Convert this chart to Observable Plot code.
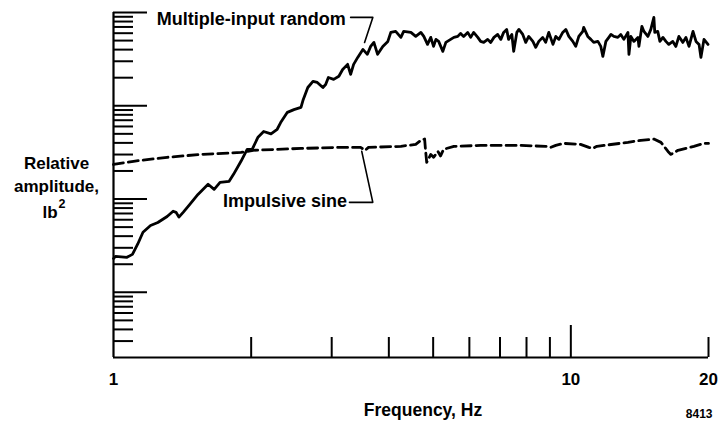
<!DOCTYPE html>
<html><head><meta charset="utf-8">
<script src="https://cdn.jsdelivr.net/npm/d3@7"></script>
<script src="https://cdn.jsdelivr.net/npm/@observablehq/plot@0.6"></script>
<style>body{margin:0;background:#fff}svg{display:block}</style>
</head><body><div id="chart"></div>
<script>
// Multiple-input random (solid)
const randomFreq = [1.0,1.01,1.07,1.10,1.13,1.16,1.205,1.25,1.31,1.35,1.37,1.39,1.42,1.47,1.53,1.61,1.66,1.71,1.79,1.83,1.90,1.96,2.01,2.07,2.13,2.21,2.28,2.32,2.40,2.48,2.57,2.60,2.66,2.73,2.79,2.87,2.91,2.95,3.03,3.11,3.17,3.25,3.30,3.35,3.42,3.51,3.59,3.65,3.71,3.78,3.88,3.98,4.04,4.14,4.25,4.31,4.47,4.58,4.70,4.77,4.86,4.94,5.01,5.07,5.14,5.25,5.33,5.46,5.55,5.66,5.74,5.83,5.95,6.04,6.13,6.26,6.35,6.45,6.58,6.68,6.79,6.92,7.03,7.13,7.24,7.31,7.43,7.50,7.62,7.70,7.85,7.97,8.09,8.26,8.38,8.51,8.68,8.81,8.95,9.14,9.27,9.42,9.60,9.75,9.90,10.10,10.25,10.41,10.62,10.67,10.89,11.06,11.22,11.46,11.63,11.75,11.93,12.11,12.24,12.42,12.67,12.86,13.06,13.33,13.40,13.53,13.74,14.02,14.09,14.30,14.45,14.74,14.96,15.19,15.26,15.49,15.66,15.90,16.14,16.38,16.71,16.97,17.23,17.58,17.85,18.13,18.50,18.78,19.07,19.25,19.55,19.95];
const randomAmp = [2.3,2.43,2.37,2.55,3.3,4.4,5.2,5.6,6.5,7.4,7.2,6.4,7.2,8.8,11.2,14.4,12.7,15.1,15.5,18.4,25.4,34,34,46,53,50,56,66,85,91,96,117,157,183,178,157,169,201,192,207,245,278,217,278,330,402,356,433,478,356,433,490,612,627,541,627,612,554,612,554,455,541,433,515,490,383,478,515,541,554,597,554,612,541,612,541,490,478,515,478,541,582,515,612,659,515,582,383,612,659,582,478,554,490,423,490,541,478,612,455,554,515,612,659,554,490,433,554,627,692,554,515,478,490,433,338,490,541,582,554,541,582,515,612,356,554,490,541,433,710,627,554,659,886,612,627,490,541,490,455,490,433,554,478,541,433,627,490,455,330,515,455];
// Impulsive sine (dashed)
const sineFreq = [1.0,1.106,1.31,1.55,1.90,2.02,2.57,3.14,3.47,3.55,3.61,4.25,4.58,4.70,4.79,4.81,4.84,4.94,5.01,5.12,5.19,5.27,5.55,6.35,7.77,8.81,9.04,9.27,9.65,10.5,10.95,11.17,11.4,11.81,13.33,14.23,15.19,15.74,16.31,16.55,17.15,18.58,19.55,20];
const sineAmp = [23.5,25.4,28.0,30.1,31.6,33.3,34.9,35.8,35.8,33.3,35.8,36.7,38.6,42.6,44,34,24.7,30.1,28,32.4,29,34.1,36.7,37.6,37.6,36.7,35.8,37.6,39.5,38.6,35.8,34.9,36.7,37.6,40.5,42.6,44,40.5,32.4,30.1,33.3,36.7,39.5,39.5];

const xTickLabels = [1, 10, 20];
const xMinorTicks = [2, 3, 4, 5, 6, 7, 8, 9, 20];
const xMajorTicks = [10];
const yMajorTicks = [1, 10, 100, 1000];
const yMinorTicks = [0.3,0.4,0.5,0.6,0.7,0.8,0.9,2,3,4,5,6,7,8,9,20,30,40,50,60,70,80,90,200,300,400,500,600,700,800,900];

const seriesLabels = ["Multiple-input random", "Impulsive sine"];
const labelFreq = [3.22, 3.24];
const labelAmp = [854, 9.57];
const randomLeaderFreq = [3.30, 3.69, 3.54];
const randomLeaderAmp = [886, 886, 478];
const sineLeaderFreq = [3.28, 3.69, 3.49];
const sineLeaderAmp = [9.22, 9.22, 32.5];

const xTitle = "Frequency, Hz";
const yTitle = "Relative\namplitude,";
const yUnit = "lb";
const yUnitExp = "2";
const figNumber = "8413";

const random = randomFreq.map((f, i) => ({f, a: randomAmp[i]}));
const sine = sineFreq.map((f, i) => ({f, a: sineAmp[i]}));
const labels = seriesLabels.map((t, i) => ({t, f: labelFreq[i], a: labelAmp[i]}));
const rLeader = randomLeaderFreq.map((f, i) => ({f, a: randomLeaderAmp[i]}));
const sLeader = sineLeaderFreq.map((f, i) => ({f, a: sineLeaderAmp[i]}));

const bold = {fontWeight: "bold", fill: "black"};

const chart = Plot.plot({
  width: 720,
  height: 421,
  marginLeft: 113,
  marginRight: 12,
  marginTop: 12,
  marginBottom: 64,
  style: {fontFamily: "'Liberation Sans', Arial, Helvetica, sans-serif", background: "white", color: "black"},
  x: {type: "log", domain: [1, 20]},
  y: {type: "log", domain: [0.2, 1000]},
  marks: [
    Plot.axisY(yMinorTicks, {anchor: "left", tickSize: 20, dx: 20, fill: "none", label: null, strokeWidth: 2}),
    Plot.axisY(yMajorTicks, {anchor: "left", tickSize: 34, dx: 34, fill: "none", label: null, strokeWidth: 2}),
    Plot.axisX(xMinorTicks, {anchor: "bottom", tickSize: 20, dy: -20, fill: "none", label: null, strokeWidth: 2}),
    Plot.axisX(xMajorTicks, {anchor: "bottom", tickSize: 32, dy: -32, fill: "none", label: null, strokeWidth: 2}),
    Plot.axisX(xTickLabels, {anchor: "bottom", tickSize: 0, tickPadding: 15, fontSize: 17, fontWeight: "bold", label: null, tickFormat: d => String(d)}),
    Plot.ruleX([1], {strokeWidth: 2.2}),
    Plot.ruleY([0.2], {strokeWidth: 2.2}),
    Plot.line(sine, {x: "f", y: "a", stroke: "black", strokeWidth: 2.8, strokeDasharray: "10,5", curve: "linear"}),
    Plot.line(random, {x: "f", y: "a", stroke: "black", strokeWidth: 2.8, curve: "linear"}),
    Plot.line(rLeader, {x: "f", y: "a", stroke: "black", strokeWidth: 1.6}),
    Plot.line(sLeader, {x: "f", y: "a", stroke: "black", strokeWidth: 1.6}),
    Plot.text(labels, {x: "f", y: "a", text: "t", textAnchor: "end", fontSize: 18, ...bold}),
    Plot.text([xTitle], {frameAnchor: "bottom", dx: 12, dy: 46, lineAnchor: "top", fontSize: 17.5, ...bold}),
    Plot.text([yTitle], {frameAnchor: "top-left", dx: -57, dy: 140, lineAnchor: "top", textAnchor: "middle", lineHeight: 1.35, fontSize: 17, ...bold}),
    Plot.text([yUnit], {frameAnchor: "top-left", dx: -71, dy: 193, lineAnchor: "top", textAnchor: "start", fontSize: 17, ...bold}),
    Plot.text([yUnitExp], {frameAnchor: "top-left", dx: -55, dy: 187, lineAnchor: "top", textAnchor: "start", fontSize: 12.5, ...bold}),
    Plot.text([figNumber], {frameAnchor: "bottom-right", dx: 4, dy: 52, lineAnchor: "top", textAnchor: "end", fontSize: 12, ...bold})
  ]
});
document.getElementById("chart").append(chart);
</script>
</body></html>
